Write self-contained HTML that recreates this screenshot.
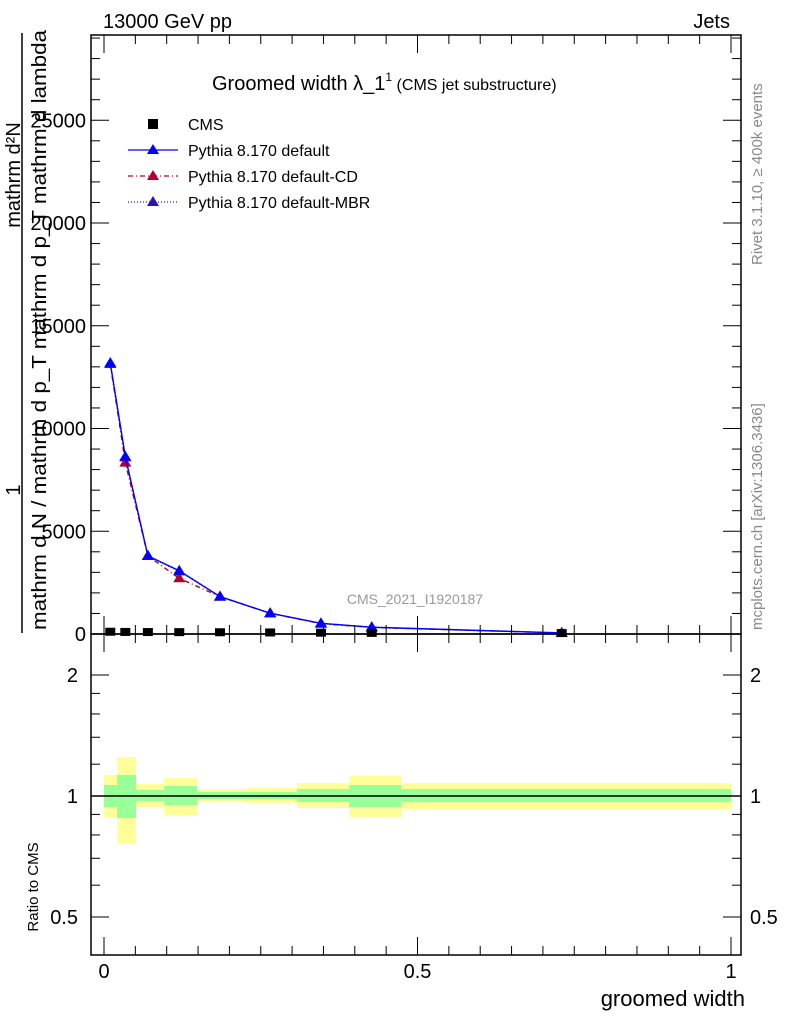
<!DOCTYPE html>
<html><head><meta charset="utf-8"><style>
body{margin:0;background:#fff}
svg{display:block;font-family:"Liberation Sans",sans-serif}
</style></head><body>
<svg id="c" width="786" height="1024" viewBox="0 0 786 1024" xmlns="http://www.w3.org/2000/svg">
<text x="103" y="28" font-size="20">13000 GeV pp</text>
<text x="730" y="28" font-size="20" text-anchor="end">Jets</text>
<text x="212" y="90" font-size="20">Groomed width λ_1<tspan font-size="12" dy="-9">1</tspan><tspan font-size="16" dy="9"> (CMS jet substructure)</tspan></text>
<g id="bands"></g>
<g id="topG"></g>
<rect x="91" y="35" width="650" height="599" fill="none" stroke="#000" stroke-width="1.5"/>
<rect x="91" y="634" width="650" height="321" fill="none" stroke="#000" stroke-width="1.5"/>
<g id="ticks"></g>
<text x="745" y="1006" font-size="22" text-anchor="end">groomed width</text>
<text transform="translate(38,887) rotate(-90)" font-size="15" text-anchor="middle">Ratio to CMS</text>
<line x1="22" y1="33" x2="22" y2="633" stroke="#000" stroke-width="1.5"/>
<text transform="translate(20,175) rotate(-90)" font-size="20" text-anchor="middle">mathrm d²N</text>
<text transform="translate(20,490) rotate(-90)" font-size="20" text-anchor="middle">1</text>
<text transform="translate(46,630) rotate(-90)" font-size="20" textLength="600" lengthAdjust="spacingAndGlyphs">mathrm d N / mathrm d p_T mathrm d p_T mathrm d lambda</text>
<text transform="translate(762,265) rotate(-90)" font-size="15" fill="#888">Rivet 3.1.10, ≥ 400k events</text>
<text transform="translate(762,630) rotate(-90)" font-size="15" fill="#888">mcplots.cern.ch [arXiv:1306.3436]</text>
<text x="415" y="604" font-size="14" fill="#999" text-anchor="middle">CMS_2021_I1920187</text>
<g>
<rect x="148" y="119" width="10" height="10" fill="#000"/>
<text x="188" y="130" font-size="16">CMS</text>
<line x1="128" y1="150" x2="178" y2="150" stroke="#00f" stroke-width="1.3"/><path d="M153,144 L159,154 L147,154Z" fill="#00f"/>
<text x="188" y="156" font-size="16">Pythia 8.170 default</text>
<line x1="128" y1="176" x2="178" y2="176" stroke="#c00030" stroke-width="1.3" stroke-dasharray="5,3,1,3"/><path d="M153,170 L159,180 L147,180Z" fill="#b00030"/>
<text x="188" y="182" font-size="16">Pythia 8.170 default-CD</text>
<line x1="128" y1="202" x2="178" y2="202" stroke="#3010c0" stroke-width="1.3" stroke-dasharray="1,2"/><path d="M153,196 L159,206 L147,206Z" fill="#3010b0"/>
<text x="188" y="208" font-size="16">Pythia 8.170 default-MBR</text>
</g>
</svg>
<script>
const binEdges=[0,0.021,0.051,0.096,0.149,0.225,0.308,0.391,0.474,1.0];
const xCenters=[0.01,0.034,0.07,0.12,0.185,0.265,0.346,0.427,0.73];
const cmsValues=[110,100,95,90,85,75,65,55,45];
const defaultValues=[13190,8630,3800,3080,1820,1010,520,330,50];
const cdValues=[13140,8340,3800,2710,1820,1010,500,320,50];
const mbrValues=[13170,8600,3800,3050,1820,1010,515,330,50];
const yellowHi=[1.128,1.25,1.071,1.108,1.041,1.047,1.077,1.121,1.077];
const yellowLo=[0.882,0.76,0.939,0.897,0.966,0.961,0.934,0.887,0.928];
const greenHi=[1.065,1.128,1.035,1.059,1.023,1.023,1.041,1.065,1.041];
const greenLo=[0.939,0.882,0.972,0.95,0.983,0.983,0.966,0.939,0.966];
const yTickLabels=[0,5000,10000,15000,20000,25000];
const rTickLabels=[0.5,1,2];
const xTickLabels=[0,0.5,1];
const NS="http://www.w3.org/2000/svg";
const X=v=>104+627*v;
const Y=v=>634-v*0.02055;
const R=r=>796-121*Math.log2(r);
function mk(tag,attrs,parent){const e=document.createElementNS(NS,tag);for(const k in attrs)e.setAttribute(k,attrs[k]);parent.appendChild(e);return e;}
const bandsG=document.getElementById('bands'),plotG=document.getElementById('topG'),ticksG=document.getElementById('ticks');
for(let i=0;i<xCenters.length;i++){
 const x0=X(binEdges[i]),x1=X(binEdges[i+1]);
 const yb=mk('rect',{x:x0,y:R(yellowHi[i]),width:x1-x0,height:R(yellowLo[i])-R(yellowHi[i]),fill:'#ffff99'},bandsG);
 
 
 const gb=mk('rect',{x:x0,y:R(greenHi[i]),width:x1-x0,height:R(greenLo[i])-R(greenHi[i]),fill:'#99ff99'},bandsG);
 
 
}
const unity=mk('line',{x1:91,x2:741,y1:R(1),y2:R(1),stroke:'#000','stroke-width':1.5},bandsG);


function series(vals,color,dash,name){
 const pts=xCenters.map((x,i)=>X(x)+','+Y(vals[i])).join(' ');
 const l=mk('polyline',{points:pts,fill:'none',stroke:color,'stroke-width':1.4,'stroke-dasharray':dash||'none'},plotG);
 
 
 xCenters.forEach((x,i)=>{const cx=X(x),cy=Y(vals[i]);
  const t=mk('path',{d:`M${cx},${cy-6}L${cx+6},${cy+4}L${cx-6},${cy+4}Z`,fill:color},plotG);
  
  });
}
series(mbrValues,'#3010b0','1,2','mbr');
series(cdValues,'#b00030','5,3,1,3','cd');
series(defaultValues,'#0000ff','','default');
xCenters.forEach((x,i)=>{const s=mk('rect',{x:X(x)-5,y:Y(cmsValues[i])-4,width:10,height:8,fill:'#000'},plotG);
 
 });
for(let v=0;v<=29000;v+=1000){const big=v%5000===0,l=big?18:9;
 mk('line',{x1:91,x2:91+l,y1:Y(v),y2:Y(v),stroke:'#000'},ticksG);
 mk('line',{x1:741,x2:741-l,y1:Y(v),y2:Y(v),stroke:'#000'},ticksG);}
yTickLabels.forEach(v=>{const t=mk('text',{x:86,y:Y(v)+7,'font-size':20,'text-anchor':'end'},ticksG);t.textContent=v;
 
 });
[0.5,0.6,0.7,0.8,0.9,1,1.2,1.4,1.6,1.8,2].forEach(r=>{const big=rTickLabels.includes(r),l=big?18:9;
 mk('line',{x1:91,x2:91+l,y1:R(r),y2:R(r),stroke:'#000'},ticksG);
 mk('line',{x1:741,x2:741-l,y1:R(r),y2:R(r),stroke:'#000'},ticksG);});
rTickLabels.forEach(r=>{const t=mk('text',{x:78,y:R(r)+7,'font-size':20,'text-anchor':'end'},ticksG);t.textContent=r;
 
 
 const t2=mk('text',{x:750,y:R(r)+7,'font-size':20},ticksG);t2.textContent=r;
 
 });
for(let k=0;k<=20;k++){const v=k*0.05,big=k%10===0,l=big?18:9;
 [[634,-1],[955,-1],[35,1],[634,1]].forEach(([y0,d])=>mk('line',{x1:X(v),x2:X(v),y1:y0,y2:y0+d*l,stroke:'#000'},ticksG));}
xTickLabels.forEach(v=>{const t=mk('text',{x:X(v),y:978,'font-size':20,'text-anchor':'middle'},ticksG);t.textContent=v;
 
 });
</script>
</body></html>
